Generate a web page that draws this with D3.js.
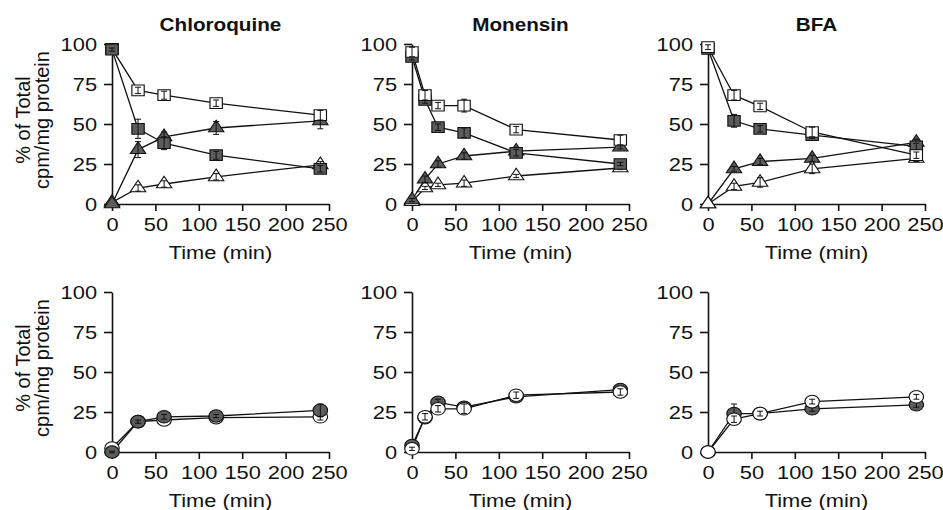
<!DOCTYPE html>
<html>
<head>
<meta charset="utf-8">
<script src="https://cdn.jsdelivr.net/npm/d3@7"></script>
<style>
body { margin: 0; background: #fff; }
text { font-family: "Liberation Sans", Arial, Helvetica, sans-serif; fill: #111; }
</style>
</head>
<body>
<svg id="chart" width="943" height="510"></svg>
<script>
// ---- data ----
const titles = ["Chloroquine", "Monensin", "BFA"];
const xTicks = [0, 50, 100, 150, 200, 250];
const yTicks = [0, 25, 50, 75, 100];

const chloTimes = [0, 30, 60, 120, 240];
const monTimes = [0, 15, 30, 60, 120, 240];
const bfaTimes = [0, 30, 60, 120, 240];

// top row (squares / triangles)
const chloOpenSq = [97, 71, 68, 63, 55.5];
const chloOpenSqErr = [1, 2, 2.5, 2, 3];
const chloFillSq = [96.5, 47, 38, 30.5, 22];
const chloFillSqErr = [1, 6, 4, 2.5, 2];
const chloFillTri = [0, 34, 42, 47.5, 52];
const chloFillTriErr = [0, 5, 3, 4, 5];
const chloOpenTri = [1, 10, 12.5, 17, 24.5];
const chloOpenTriErr = [0.5, 2, 2, 2, 2];

const monOpenSq = [95, 68, 61.5, 61.5, 46.5, 40];
const monOpenSqErr = [3, 3, 2, 4, 2, 3];
const monFillSq = [92, 65, 48, 44.5, 32, 25];
const monFillSqErr = [2, 2, 2, 3, 2, 1];
const monFillTri = [2.5, 15.5, 25, 30, 33, 35.5];
const monFillTriErr = [1, 2, 2, 2, 2, 1];
const monOpenTri = [1.5, 10, 12, 13, 17.5, 22.5];
const monOpenTriErr = [1, 1, 1, 2, 1, 1];

const bfaOpenSq = [98, 68, 61, 45, 30.5];
const bfaOpenSqErr = [1.5, 3, 2, 3, 2];
const bfaFillSq = [97, 52, 47, 43, 36];
const bfaFillSqErr = [1, 4, 2, 2, 2];
const bfaFillTri = [0, 22, 26.5, 28.5, 38.5];
const bfaFillTriErr = [0, 1.5, 2, 2, 2];
const bfaOpenTri = [0, 11, 13.5, 22, 28.5];
const bfaOpenTriErr = [0, 2, 3, 3, 2];

// bottom row (circles)
const chloFillCirc = [0, 19, 22, 22.5, 26];
const chloFillCircErr = [0.5, 1, 1.5, 1, 4];
const chloOpenCirc = [2.5, 19, 20, 21.5, 22];
const chloOpenCircErr = [1, 1, 1.5, 1.5, 2];

const monFillCirc = [4, 21.5, 31, 28, 34.5, 39];
const monFillCircErr = [1, 2, 2, 2, 1.5, 2];
const monOpenCirc = [2, 22, 27, 27, 35.5, 37.5];
const monOpenCircErr = [1, 2, 2, 3, 2, 2];

const bfaFillCirc = [0, 24, 24, 27, 29.5];
const bfaFillCircErr = [0, 6, 1.5, 1.5, 1.5];
const bfaOpenCirc = [0, 20.5, 24, 31.5, 34.5];
const bfaOpenCircErr = [0, 2, 1.5, 1.5, 1.5];

// ---- layout ----
const SX = 1.15;           // figure is slightly stretched sideways
const colX = [112, 412, 708];
const plotW = 217;
const rowY = [204, 452];
const plotH = 160;
const darkFill = '#5c5c5c';

function ser(times, vals, errs, shape, filled) {
       return {times: times, vals: vals, errs: errs, shape: shape, filled: filled};
}

const panels = [
       {col: 0, row: 0, title: titles[0], series: [
              ser(chloTimes, chloOpenTri, chloOpenTriErr, 'tri', false),
              ser(chloTimes, chloFillTri, chloFillTriErr, 'tri', true),
              ser(chloTimes, chloOpenSq, chloOpenSqErr, 'sq', false),
              ser(chloTimes, chloFillSq, chloFillSqErr, 'sq', true)]},
       {col: 1, row: 0, title: titles[1], series: [
              ser(monTimes, monOpenTri, monOpenTriErr, 'tri', false),
              ser(monTimes, monFillTri, monFillTriErr, 'tri', true),
              ser(monTimes, monFillSq, monFillSqErr, 'sq', true),
              ser(monTimes, monOpenSq, monOpenSqErr, 'sq', false)]},
       {col: 2, row: 0, title: titles[2], series: [
              ser(bfaTimes, bfaFillTri, bfaFillTriErr, 'tri', true),
              ser(bfaTimes, bfaOpenTri, bfaOpenTriErr, 'tri', false),
              ser(bfaTimes, bfaFillSq, bfaFillSqErr, 'sq', true),
              ser(bfaTimes, bfaOpenSq, bfaOpenSqErr, 'sq', false)]},
       {col: 0, row: 1, series: [
              ser(chloTimes, chloOpenCirc, chloOpenCircErr, 'circ', false),
              ser(chloTimes, chloFillCirc, chloFillCircErr, 'circ', true)]},
       {col: 1, row: 1, series: [
              ser(monTimes, monFillCirc, monFillCircErr, 'circ', true),
              ser(monTimes, monOpenCirc, monOpenCircErr, 'circ', false)]},
       {col: 2, row: 1, series: [
              ser(bfaTimes, bfaFillCirc, bfaFillCircErr, 'circ', true),
              ser(bfaTimes, bfaOpenCirc, bfaOpenCircErr, 'circ', false)]}
];

const symbols = {
       sq: d3.symbol().type(d3.symbolSquare).size(115),
       tri: d3.symbol().type(d3.symbolTriangle).size(78),
       circ: d3.symbol().type(d3.symbolCircle).size(125)
};

const svg = d3.select('#chart');

panels.forEach(p => {
       const x0 = colX[p.col];
       const y0 = rowY[p.row];
       const xScale = d3.scaleLinear().domain([0, 250]).range([x0, x0 + plotW]);
       const yScale = d3.scaleLinear().domain([0, 100]).range([y0, y0 - plotH]);
       const g = svg.append('g');

       //x-Axis
       const gx = g.append('g')
              .attr('transform', 'translate(0,' + y0 + ')')
              .call(d3.axisBottom(xScale).tickValues(xTicks).tickSize(7).tickSizeOuter(0).tickPadding(7));
       //y-Axis
       const gy = g.append('g')
              .attr('transform', 'translate(' + x0 + ',0)')
              .call(d3.axisLeft(yScale).tickValues(yTicks).tickSize(8).tickSizeOuter(0).tickPadding(5));
       [gx, gy].forEach(a => {
              a.selectAll('path, line').attr('stroke', '#111').attr('stroke-width', 1.6);
              a.selectAll('text')
                     .attr('font-size', 19)
                     .attr('font-family', '"Liberation Sans", Arial, sans-serif')
                     .attr('fill', '#111')
                     .attr('transform', 'scale(' + SX + ',1)');
       });

       //x-label
       g.append('text')
              .text('Time (min)')
              .attr('text-anchor', 'middle')
              .attr('font-size', 19)
              .attr('transform', 'translate(' + (x0 + plotW / 2) + ',' + (y0 + 55) + ') scale(' + SX + ',1)');

       //y-label (only first column)
       if (p.col === 0) {
              const cy = y0 - plotH / 2 - 4;
              g.append('text')
                     .text('% of Total')
                     .attr('text-anchor', 'middle')
                     .attr('font-size', 20)
                     .attr('transform', 'translate(30,' + cy + ') rotate(-90)');
              g.append('text')
                     .text('cpm/mg protein')
                     .attr('text-anchor', 'middle')
                     .attr('font-size', 20)
                     .attr('transform', 'translate(49,' + cy + ') rotate(-90)');
       }

       //title
       if (p.title) {
              g.append('text')
                     .text(p.title)
                     .attr('text-anchor', 'middle')
                     .attr('font-size', 18)
                     .attr('font-weight', 'bold')
                     .attr('transform', 'translate(' + (x0 + plotW / 2) + ',31) scale(' + SX + ',1)');
       }

       //lines
       const line = d3.line().x(d => xScale(d[0])).y(d => yScale(d[1]));
       p.series.forEach(s => {
              const pts = s.times.map((t, i) => [t, s.vals[i]]);
              g.append('path')
                     .attr('d', line(pts))
                     .attr('fill', 'none')
                     .attr('stroke', '#111')
                     .attr('stroke-width', 1.3);
       });

       //markers + error bars
       p.series.forEach(s => {
              const pts = s.times.map((t, i) => ({t: t, v: s.vals[i], e: s.errs[i]}));
              g.selectAll(null)
                     .data(pts)
                     .enter()
                     .append('path')
                     .attr('d', symbols[s.shape]())
                     .attr('transform', d => 'translate(' + xScale(d.t) + ',' + yScale(d.v) + ') scale(' + SX + ',1)')
                     .attr('fill', s.filled ? darkFill : '#fff')
                     .attr('stroke', '#111')
                     .attr('stroke-width', 1);
              const eb = g.selectAll(null)
                     .data(pts.filter(d => d.e > 0))
                     .enter()
                     .append('g')
                     .attr('stroke', '#111')
                     .attr('stroke-width', 1);
              eb.append('line')
                     .attr('x1', d => xScale(d.t)).attr('x2', d => xScale(d.t))
                     .attr('y1', d => yScale(d.v - d.e)).attr('y2', d => yScale(d.v + d.e));
              eb.append('line')
                     .attr('x1', d => xScale(d.t) - 3).attr('x2', d => xScale(d.t) + 3)
                     .attr('y1', d => yScale(d.v + d.e)).attr('y2', d => yScale(d.v + d.e));
              eb.append('line')
                     .attr('x1', d => xScale(d.t) - 3).attr('x2', d => xScale(d.t) + 3)
                     .attr('y1', d => yScale(d.v - d.e)).attr('y2', d => yScale(d.v - d.e));
       });
});
</script>
</body>
</html>
